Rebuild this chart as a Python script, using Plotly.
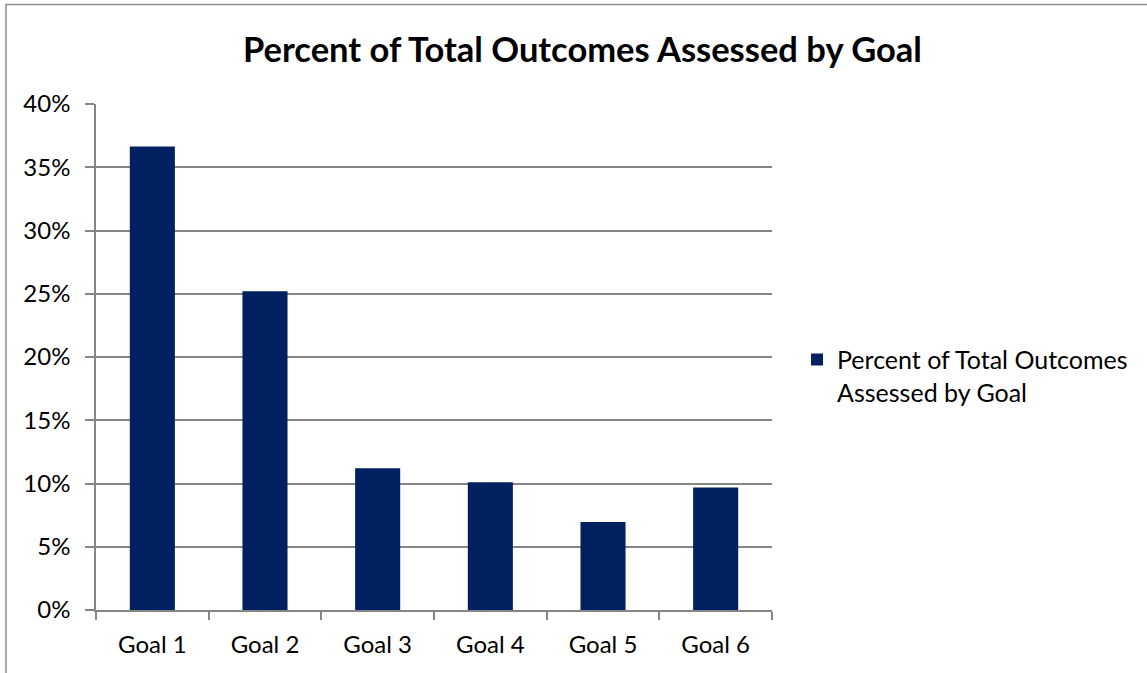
import plotly.graph_objects as go

categories = ["Goal 1", "Goal 2", "Goal 3", "Goal 4", "Goal 5", "Goal 6"]
values = [0.3665, 0.252, 0.112, 0.101, 0.0696, 0.0968]
series_name = "Percent of Total Outcomes<br>Assessed by Goal"
title_text = "Percent of Total Outcomes Assessed by Goal"

FONT = "Lato"
GRID = "#868686"

fig = go.Figure()
fig.add_trace(go.Bar(
    x=categories, y=values, name=series_name,
    marker=dict(color="#002060", line=dict(width=0)),
    width=0.4, showlegend=True,
))

fig.update_layout(
    width=1147, height=673,
    margin=dict(l=96, r=375, t=104, b=63),
    paper_bgcolor="white", plot_bgcolor="white",
    font=dict(family=FONT, size=24, color="black"),
    title=dict(text="<b>" + title_text + "</b>", x=0.5078, xanchor="center",
               y=1 - 50 / 673, yanchor="middle",
               font=dict(family=FONT, size=34.5, color="black")),
    legend=dict(x=1.037, y=0.463, xanchor="left", yanchor="middle",
                font=dict(family=FONT, size=25, color="black"),
                bgcolor="rgba(0,0,0,0)", itemwidth=30, valign="top"),
    bargap=0.6,
    shapes=[dict(type="rect", xref="paper", yref="paper",
                 x0=(6 - 96) / 676, x1=2.0, y0=-1.0, y1=(610 - 5) / 505.5,
                 line=dict(color="#8c8c8c", width=1.5), fillcolor="rgba(0,0,0,0)",
                 layer="below")],
)
fig.update_xaxes(
    type="category", showline=True, linecolor=GRID, linewidth=1.5,
    ticks="outside", ticklen=8, tickcolor=GRID, tickwidth=1.5,
    tickson="boundaries", showgrid=False,
    tickfont=dict(family=FONT, size=24), ticklabelstandoff=12,
)
fig.update_yaxes(
    range=[0, 0.4], dtick=0.05, tickformat=".0%",
    showline=True, linecolor=GRID, linewidth=1.5,
    ticks="outside", ticklen=9, tickcolor=GRID, tickwidth=1.5,
    showgrid=True, gridcolor=GRID, gridwidth=1.5, zeroline=False,
    tickfont=dict(family=FONT, size=24), ticklabelstandoff=10,
)

fig.write_html("out.html")
